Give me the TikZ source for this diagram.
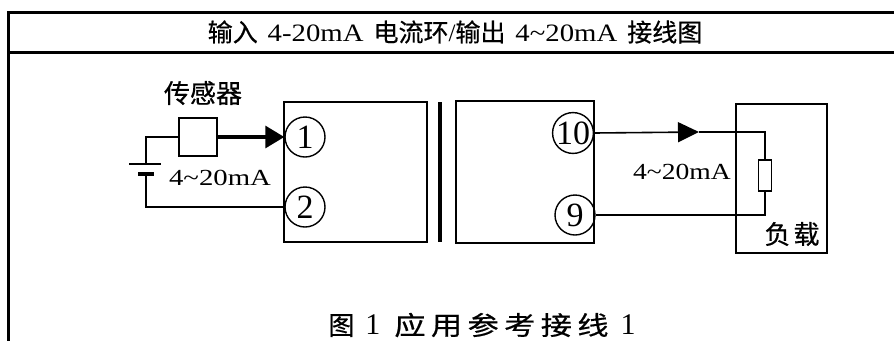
\documentclass[tikz,border=0pt]{standalone}
\usepackage{graphicx}
\usepackage{fontspec}
\setmainfont{Liberation Serif}
\newfontfamily\cjk[FakeBold=0.6]{Noto Sans CJK SC}
\usetikzlibrary{arrows.meta}
\newcommand{\zh}[1]{{\cjk #1}}
\newcommand{\lat}[2][1.2]{\scalebox{#1}[1]{#2}}
\tikzset{
  frameline/.style={line width=3pt},
  boxline/.style={draw, line width=1.8pt, inner sep=0pt},
  wire/.style={line width=1.6pt},
  thickwire/.style={line width=3.2pt},
  term/.style={circle, draw, line width=1.4pt, minimum size=40pt, inner sep=0pt, font=\fontsize{34pt}{36pt}\selectfont},
  lbl/.style={inner sep=0pt, font=\fontsize{23pt}{24pt}\selectfont},
  zhlbl/.style={inner sep=0pt, font=\fontsize{26pt}{28pt}\selectfont\cjk},
}
\begin{document}
\begin{tikzpicture}[x=1pt, y=-1pt]
\useasboundingbox (0,0) rectangle (894,341);
% frame
\coordinate (ftl) at (8.5,12);
\coordinate (ftr) at (894,12);
\coordinate (fsl) at (8.5,52);
\coordinate (fsr) at (894,52);
\coordinate (fbl) at (8.5,341);
\draw[frameline] (ftr) -- (ftl) -- (fbl);
\draw[frameline] (fsl) -- (fsr);
% title
\node[inner sep=0pt, font=\fontsize{25pt}{28pt}\selectfont] (title) at (455,32)
  {{\fontsize{25pt}{28pt}\selectfont\zh{输入}}\hspace{10pt}\lat[1.15]{4-20mA}\hspace{10pt}{\fontsize{25pt}{28pt}\selectfont\zh{电流环}}/{\fontsize{25pt}{28pt}\selectfont\zh{输出}}\hspace{10pt}\lat[1.15]{4\textasciitilde20mA}\hspace{10pt}{\fontsize{25pt}{28pt}\selectfont\zh{接线图}}};
% left block, bar, right block
\node[boxline, minimum width=143pt, minimum height=140pt] (lblock) at (355.5,172) {};
\node[boxline, minimum width=138pt, minimum height=142pt] (rblock) at (525,172) {};
\coordinate (bartop) at (440,102);
\coordinate (barbot) at (440,242);
\draw[line width=4pt] (bartop) -- (barbot);
% terminals
\node[term] (t1) at (305,137) {1};
\node[term] (t2) at (305,207) {2};
\node[term] (t10) at (573,133) {10};
\node[term] (t9) at (575,215) {9};
% sensor
\node[zhlbl] (senslbl) at (203,93) {传感器};
\node[boxline, minimum width=38pt, minimum height=38pt] (sensor) at (198,137) {};
\draw[thickwire, -{Triangle[length=19pt, width=22pt]}] (sensor.east) -- (t1.west);
% battery
\coordinate (bl1) at (129,164);
\coordinate (bl2) at (161,164);
\coordinate (bs1) at (138,174);
\coordinate (bs2) at (154,174);
\coordinate (btop) at (146,164);
\coordinate (bbot) at (146,174);
\draw[wire] (bl1) -- (bl2);
\draw[line width=4pt] (bs1) -- (bs2);
\draw[wire] (sensor.west) -| (btop);
\draw[wire] (bbot) |- (t2.west);
\node[lbl] (curL) at (220,178) {\lat[1.25]{4\textasciitilde20mA}};
% load
\node[boxline, minimum width=91pt, minimum height=149pt] (load) at (781.5,178.5) {};
\node[zhlbl] (loadlbl) at (792,234) {负\hspace{3pt}载};
\node[draw, line width=1.4pt, minimum width=13pt, minimum height=31pt, inner sep=0pt] (res) at (765,175.5) {};
\coordinate (tipR) at (699,132);
\coordinate (cornerT) at (765,132);
\coordinate (cornerB) at (765,215);
\draw[wire, -{Triangle[length=21pt, width=20pt]}] (t10.east) -- (tipR);
\draw[wire] (tipR) -- (cornerT) -- (res.north);
\draw[wire] (res.south) -- (cornerB) -- (t9.east);
\node[lbl] (curR) at (682,172) {\lat[1.2]{4\textasciitilde20mA}};
% caption
\node[inner sep=0pt, font=\fontsize{30pt}{30pt}\selectfont] (caption) at (482,325)
  {{\fontsize{26pt}{30pt}\selectfont\zh{图}}\hspace{11pt}1\hspace{14pt}{\fontsize{26pt}{30pt}\selectfont\lat[1.2]{\zh{应}\hspace{4.5pt}\zh{用}\hspace{4.5pt}\zh{参}\hspace{4.5pt}\zh{考}\hspace{4.5pt}\zh{接}\hspace{4.5pt}\zh{线}}}\hspace{12pt}1};
\end{tikzpicture}
\end{document}
